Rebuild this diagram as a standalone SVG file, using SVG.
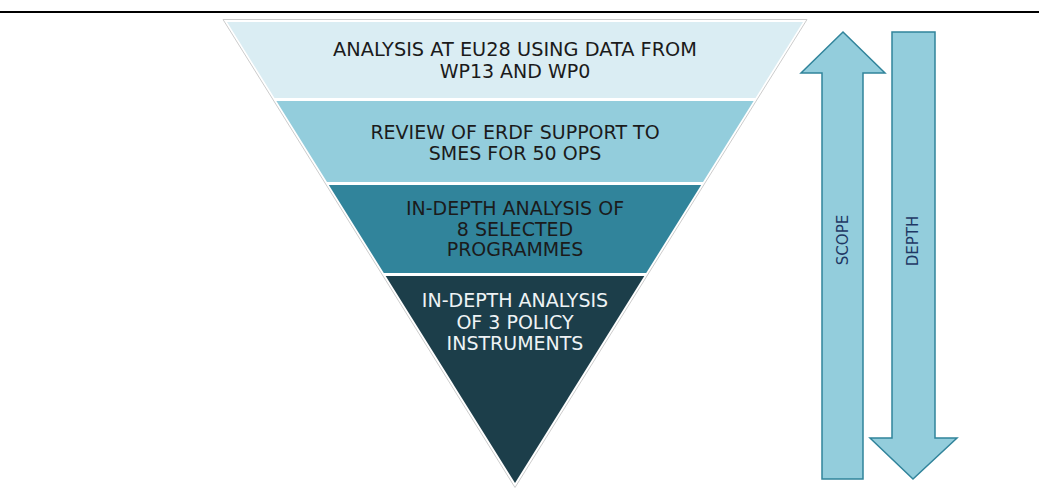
<svg xmlns="http://www.w3.org/2000/svg" width="1039" height="496" viewBox="0 0 1039 496">
  <style>
    .t { font-family: "DejaVu Sans", Verdana, sans-serif; font-size: 19px; text-anchor: middle; }
    .dark { fill: #1b1b1b; }
    .light { fill: #eef3f5; }
    .arrow { fill: #93cddc; stroke: #31849b; stroke-width: 1.5; stroke-linejoin: miter; }
    .lbl { font-family: "DejaVu Sans", Verdana, sans-serif; font-size: 15px; fill: #1f3864; text-anchor: middle; }
  </style>
  <rect x="0" y="0" width="1039" height="496" fill="#ffffff"/>
  <line x1="0" y1="12" x2="1039" y2="12" stroke="#000000" stroke-width="2"/>

  <g id="pyramid-outline">
    <polygon points="223,19.5 807,19.5 515,487.5" fill="#ffffff" stroke="#cccccc" stroke-width="1"/>
  </g>

  <g id="band1">
    <polygon points="227,22 803,22 755.5,98 274.5,98" fill="#daedf3"/>
    <text class="t dark" x="515" y="56" textLength="364" lengthAdjust="spacingAndGlyphs">ANALYSIS AT EU28 USING DATA FROM</text>
    <text class="t dark" x="515" y="78">WP13 AND WP0</text>
  </g>

  <g id="band2">
    <polygon points="276.4,101 753.6,101 703,182 327,182" fill="#93cddc"/>
    <text class="t dark" x="515" y="139">REVIEW OF ERDF SUPPORT TO</text>
    <text class="t dark" x="515" y="160">SMES FOR 50 OPS</text>
  </g>

  <g id="band3">
    <polygon points="328.8,185 701.2,185 646.2,273 383.8,273" fill="#31849b"/>
    <text class="t dark" x="515" y="215">IN-DEPTH ANALYSIS OF</text>
    <text class="t dark" x="515" y="236">8 SELECTED</text>
    <text class="t dark" x="515" y="256">PROGRAMMES</text>
  </g>

  <g id="band4">
    <polygon points="385.7,276 644.3,276 515,483" fill="#1c3e4a"/>
    <text class="t light" x="515" y="307">IN-DEPTH ANALYSIS</text>
    <text class="t light" x="515" y="329">OF 3 POLICY</text>
    <text class="t light" x="515" y="350">INSTRUMENTS</text>
  </g>

  <g id="connectors">
    <g id="scope-arrow">
      <polygon class="arrow" points="843,32 885,73 863,73 863,479 822,479 822,73 801,73"/>
      <text class="lbl" transform="translate(848,240) rotate(-90)">SCOPE</text>
    </g>
    <g id="depth-arrow">
      <polygon class="arrow" points="892,32 935,32 935,438 957,438 913,479 870,438 892,438"/>
      <text class="lbl" transform="translate(918,241) rotate(-90)">DEPTH</text>
    </g>
  </g>
</svg>
